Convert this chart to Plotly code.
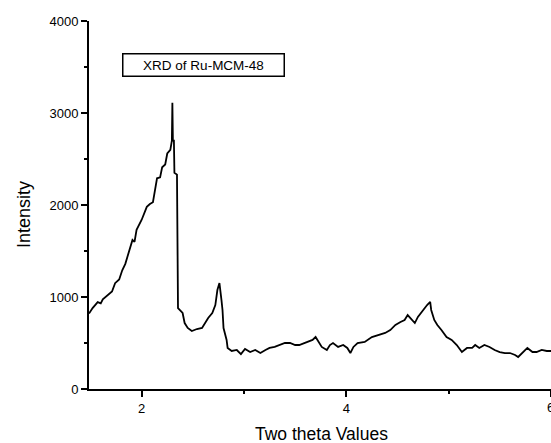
import plotly.graph_objects as go

# Two-theta values (degrees) and intensities
two_theta = [
    1.485, 1.52, 1.57, 1.60, 1.62, 1.67, 1.71, 1.74, 1.78, 1.81, 1.84, 1.86, 1.89, 1.91,
    1.93, 1.95, 2.00, 2.05, 2.08, 2.11, 2.15, 2.18, 2.20, 2.23, 2.25, 2.28, 2.295,
    2.30, 2.305, 2.315, 2.32, 2.345, 2.355,
    2.40, 2.42, 2.45, 2.49, 2.54, 2.59, 2.62, 2.65, 2.69, 2.72, 2.74, 2.76, 2.78,
    2.79, 2.80, 2.83, 2.84, 2.88, 2.93, 2.97, 3.01, 3.06, 3.11, 3.16, 3.21, 3.25,
    3.30, 3.35, 3.40, 3.45, 3.50, 3.54, 3.61, 3.67, 3.70, 3.72, 3.76, 3.81, 3.84,
    3.87, 3.92, 3.97, 4.01, 4.04, 4.07, 4.11, 4.18, 4.25, 4.31, 4.38, 4.43, 4.48,
    4.53, 4.57, 4.60, 4.64, 4.67, 4.70, 4.75, 4.79, 4.82, 4.83, 4.86, 4.89, 4.93,
    4.98, 5.03, 5.08, 5.13, 5.18, 5.23, 5.26, 5.30, 5.35, 5.40, 5.45, 5.50, 5.55,
    5.60, 5.65, 5.68, 5.73, 5.77, 5.82, 5.86, 5.91, 5.96, 6.01,
]
intensity = [
    820, 880, 945, 930, 975, 1020, 1060, 1150, 1190, 1290, 1360, 1435, 1560, 1620,
    1600, 1730, 1840, 1980, 2010, 2030, 2290, 2300, 2410, 2440, 2560, 2600, 2700,
    3110, 2700, 2700, 2350, 2330, 880,
    826, 717, 663, 630, 652, 663, 717, 772, 826, 913, 1076, 1152, 967,
    859, 663, 533, 446, 413, 424, 380, 435, 402, 424, 391, 424, 446,
    457, 478, 500, 500, 478, 478, 511, 533, 565, 533, 457, 424, 478,
    500, 457, 478, 446, 391, 457, 500, 511, 565, 587, 609, 641, 696,
    728, 750, 804, 750, 717, 783, 859, 913, 946, 859, 750, 696, 641,
    565, 533, 478, 402, 446, 446, 478, 446, 478, 457, 424, 402, 391,
    391, 370, 348, 402, 446, 402, 402, 424, 413, 413,
]

x_range = [1.485, 6.001]
y_range = [0, 4000]
y_ticks = [0, 1000, 2000, 3000, 4000]
x_ticks = [2, 4, 6]

title_text = "XRD of Ru-MCM-48"
x_title = "Two theta Values"
y_title = "Intensity"

FONT = "Arial, Liberation Sans, sans-serif"

fig = go.Figure()
fig.add_trace(go.Scatter(
    x=two_theta, y=intensity, mode="lines",
    line=dict(color="black", width=1.8),
    showlegend=False,
))

axis_common = dict(
    showgrid=False, zeroline=False, showline=True,
    linecolor="black", linewidth=2,
    ticks="outside", ticklen=6, tickwidth=1.5, tickcolor="black",
    tickfont=dict(family=FONT, size=13, color="black"),
)

fig.update_xaxes(
    range=x_range, tickvals=x_ticks, ticktext=[str(v) for v in x_ticks],
    minor=dict(dtick=1, tick0=0, ticks="outside", ticklen=3, tickwidth=1.5, tickcolor="black", showgrid=False),
    **axis_common,
)
fig.update_yaxes(
    range=y_range, tickvals=y_ticks, ticktext=[str(v) for v in y_ticks],
    minor=dict(dtick=500, tick0=0, ticks="outside", ticklen=3, tickwidth=1.5, tickcolor="black", showgrid=False),
    **axis_common,
)

annotations = [
    dict(text=title_text, x=2.604, y=3527, xref="x", yref="y",
         showarrow=False, font=dict(family=FONT, size=13.5, color="black"),
         bordercolor="black", borderwidth=1.5, borderpad=1,
         width=158, height=19, bgcolor="white",
         xanchor="center", yanchor="middle"),
    dict(text=y_title, x=-0.1407, y=0.4755, xref="paper", yref="paper",
         showarrow=False, textangle=-90, font=dict(family=FONT, size=18, color="black"),
         xanchor="center", yanchor="middle"),
    dict(text=x_title, x=0.504, y=-0.122, xref="paper", yref="paper",
         showarrow=False, font=dict(family=FONT, size=17.5, color="black"),
         xanchor="center", yanchor="middle"),
    # last x tick label, which sits on the right edge of the page
    dict(text=str(x_ticks[-1]), x=x_ticks[-1], y=-0.0245, xref="x", yref="paper",
         showarrow=False, font=dict(family=FONT, size=13, color="black"),
         xanchor="center", yanchor="top"),
]

fig.update_layout(
    width=551, height=443,
    margin=dict(l=89, r=0, t=21, b=54, pad=0),
    paper_bgcolor="white", plot_bgcolor="white",
    font=dict(family=FONT, color="black"),
    annotations=annotations,
)

fig.write_html("out.html")
